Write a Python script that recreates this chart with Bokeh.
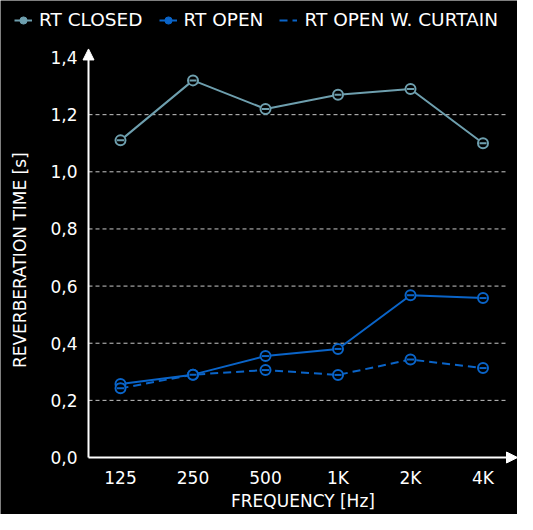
from bokeh.plotting import figure
from bokeh.models import (Range1d, FixedTicker, Legend, LegendItem,
                          Arrow, NormalHead, ColumnDataSource)
from bokeh.embed import file_html
from bokeh.resources import INLINE

# ---- data ----
categories = ["125", "250", "500", "1K", "2K", "4K"]
rt_closed = [1.11, 1.32, 1.22, 1.27, 1.29, 1.10]
rt_open = [0.257, 0.290, 0.355, 0.380, 0.568, 0.558]
rt_curtain = [0.242, 0.290, 0.306, 0.289, 0.343, 0.313]
y_ticks = [0.0, 0.2, 0.4, 0.6, 0.8, 1.0, 1.2, 1.4]
y_tick_labels = ["0,0", "0,2", "0,4", "0,6", "0,8", "1,0", "1,2", "1,4"]
grid_ticks = [0.2, 0.4, 0.6, 0.8, 1.0, 1.2]
series_names = ["RT CLOSED", "RT OPEN", "RT OPEN W. CURTAIN"]

# ---- layout constants (pixels) ----
W, H = 517, 514
X0_PX, X_STEP = 120.0, 72.5      # first category centre, spacing
AXIS_PX = 88.0                   # y axis position
Y0_PX, Y_UNIT = 457.0, 285.7     # pixel of y=0, px per 1.0 s
GRID_END_PX = 508.0

def xdata(px):
    return (px - X0_PX) / X_STEP

x_lo, x_hi = xdata(0), xdata(W)
y_lo, y_hi = -(H - Y0_PX) / Y_UNIT, Y0_PX / Y_UNIT
AX_X = xdata(AXIS_PX)
Y_TOP = 1.43

FONT = "DejaVu Sans"
C_CLOSED = "#6e9fae"
C_OPEN = "#0a64c8"

p = figure(width=W, height=H, output_backend="svg", toolbar_location=None,
           x_range=Range1d(x_lo, x_hi), y_range=Range1d(y_lo, y_hi), min_border=0)
p.background_fill_color = "black"
p.border_fill_color = "black"
p.outline_line_color = None

x_pos = list(range(len(categories)))

for ax in (p.xaxis[0], p.yaxis[0]):
    ax.axis_line_color = None
    ax.major_tick_line_color = None
    ax.minor_tick_line_color = None
    ax.major_label_text_color = "white"
    ax.major_label_text_font = FONT
    ax.major_label_text_font_size = "17px"
    ax.axis_label_text_color = "white"
    ax.axis_label_text_font = FONT
    ax.axis_label_text_font_style = "normal"

p.yaxis.fixed_location = AX_X
p.yaxis.bounds = (0, 1.4)
p.yaxis.ticker = FixedTicker(ticks=y_ticks)
p.yaxis.major_label_overrides = dict(zip(y_ticks, y_tick_labels))
p.yaxis.major_label_standoff = 5
p.yaxis.axis_label = "REVERBERATION TIME  [s]"
p.yaxis.axis_label_text_font_size = "17px"
p.yaxis.axis_label_standoff = 17

p.xaxis.fixed_location = 0
p.xaxis.bounds = (AX_X, x_hi)
p.xaxis.ticker = FixedTicker(ticks=x_pos)
p.xaxis.major_label_overrides = dict(zip(x_pos, categories))
p.xaxis.major_label_standoff = 4
p.xaxis.axis_label = "FREQUENCY [Hz]"
p.xaxis.axis_label_text_font_size = "17px"
p.xaxis.axis_label_standoff = 0

p.xgrid.grid_line_color = None
p.ygrid.grid_line_color = None
p.segment(x0=AX_X, x1=xdata(GRID_END_PX), y0=grid_ticks, y1=grid_ticks,
          line_color="#c8c8c8", line_dash="4 3", line_width=1)

src = ColumnDataSource(dict(x=x_pos, closed=rt_closed, open=rt_open, curtain=rt_curtain))

def series(col, color, dash, dot):
    ln = p.line("x", col, source=src, line_color=color, line_width=2, line_dash=dash)
    p.scatter("x", col, source=src, marker="circle", size=10, line_color=color,
              line_width=2, fill_color="black")
    p.scatter("x", col, source=src, marker="dash", size=7, line_color=color, line_width=2)
    rs = [ln]
    if dot:
        rs.append(p.scatter("x", col, source=src, marker="circle", size=7,
                            line_color=color, fill_color=color, visible=False))
    return rs

r1 = series("closed", C_CLOSED, "solid", True)
r2 = series("open", C_OPEN, "solid", True)
r3 = series("curtain", C_OPEN, "8 5", False)

p.add_layout(Arrow(x_start=AX_X, y_start=0, x_end=AX_X, y_end=Y_TOP, line_color="white",
                   line_width=2, end=NormalHead(size=11, fill_color="white",
                                                line_color="white")))
p.add_layout(Arrow(x_start=AX_X, y_start=0, x_end=x_hi, y_end=0, line_color="white",
                   line_width=2, end=NormalHead(size=11, fill_color="white",
                                                line_color="white")))

legend = Legend(items=[LegendItem(label=series_names[0], renderers=r1),
                       LegendItem(label=series_names[1], renderers=r2),
                       LegendItem(label=series_names[2], renderers=r3)],
                orientation="horizontal", location=(14, H - 30))
legend.background_fill_alpha = 0
legend.border_line_color = None
legend.label_text_color = "white"
legend.label_text_font = FONT
legend.label_text_font_size = "18.5px"
legend.glyph_width = 18
legend.glyph_height = 20
legend.label_height = 20
legend.label_standoff = 7
legend.spacing = 16
legend.padding = 0
legend.margin = 0
p.add_layout(legend, "center")

open("out.html", "w").write(file_html(p, INLINE))
